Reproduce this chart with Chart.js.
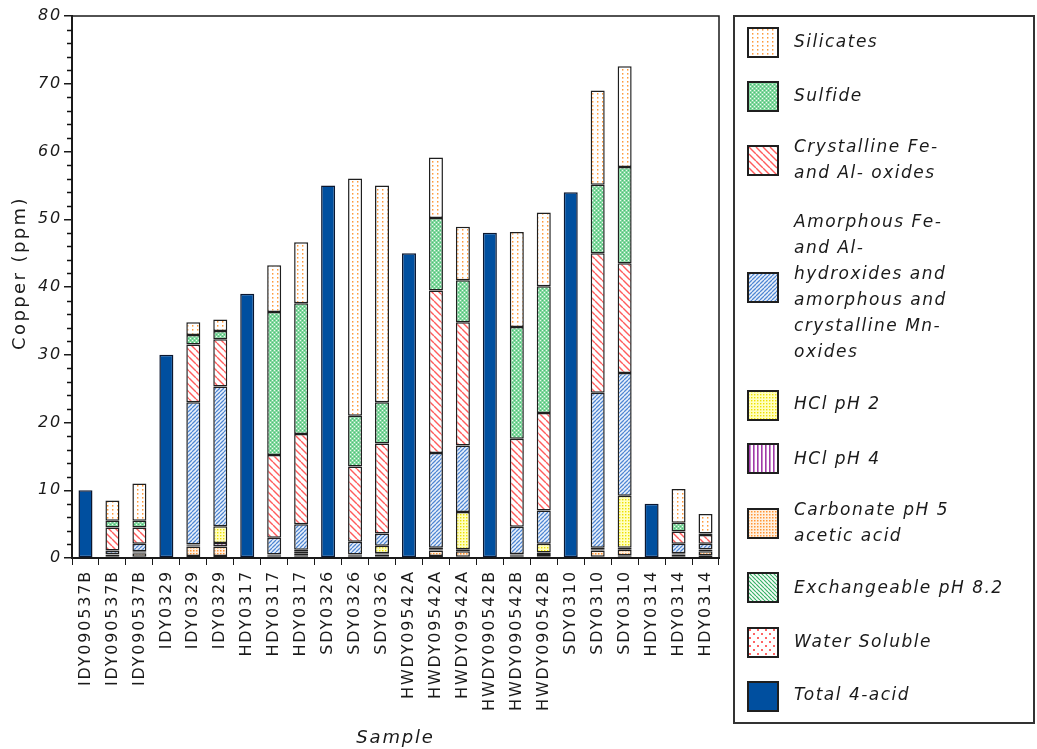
<!DOCTYPE html>
<html><head><meta charset="utf-8">
<script src="https://cdn.jsdelivr.net/npm/chart.js@4.4.1/dist/chart.umd.min.js"></script>
<style>html,body{margin:0;padding:0;background:#fff}#wrap{width:1037px;height:749px}</style>
</head><body><div id="wrap"><canvas id="c" width="1037" height="749"></canvas></div>
<script>
const categories = ['IDY090537B','IDY090537B','IDY090537B','IDY0329','IDY0329','IDY0329','HDY0317','HDY0317','HDY0317','SDY0326','SDY0326','SDY0326','HWDY09542A','HWDY09542A','HWDY09542A','HWDY090542B','HWDY090542B','HWDY090542B','SDY0310','SDY0310','SDY0310','HDY0314','HDY0314','HDY0314'];
const N = null;
const waterSoluble = [N,0.1,0.1, N,0.1,0.1, N,0.1,0.2, N,0.1,0.1, N,0.1,0.1, N,0.1,0.1, N,0.1,0.2, N,0.1,0.1];
const exchangeable = [N,0.1,0.1, N,0.2,0.2, N,0.1,0.2, N,0.1,0.1, N,0.2,0.1, N,0.1,0.1, N,0.1,0.2, N,0.1,0.3];
const carbonate    = [N,0.3,0.5, N,1.4,1.4, N,0.2,0.3, N,0.2,0.3, N,0.8,0.8, N,0.2,0.4, N,0.9,0.8, N,0.3,0.6];
const hclPH4       = [N,0.05,0.1, N,0.2,0.5, N,0.05,0.3, N,0.05,0.2, N,0.2,0.3, N,0.1,0.2, N,0.2,0.3, N,0.1,0.2];
const hclPH2       = [N,0.05,0.2, N,0.1,2.5, N,0.05,0.2, N,0.05,1.1, N,0.2,5.5, N,0.1,1.3, N,0.2,7.7, N,0.1,0.1];
const amorphous    = [N,0.5,1.1, N,21.0,20.6, N,2.5,3.8, N,1.9,1.8, N,14.0,9.8, N,4.0,4.9, N,22.9,18.1, N,1.4,0.8];
const crystalline  = [N,3.4,2.4, N,8.5,7.0, N,12.2,13.3, N,11.1,13.3, N,24.0,18.2, N,13.0,14.4, N,20.6,16.2, N,1.8,1.3];
const sulfide      = [N,1.0,1.0, N,1.4,1.2, N,21.1,19.3, N,7.5,6.1, N,10.7,6.2, N,16.5,18.7, N,10.1,14.2, N,1.3,0.2];
const silicates    = [N,3.0,5.5, N,1.9,1.7, N,6.9,9.0, N,35.0,32.0, N,8.9,7.9, N,14.0,10.9, N,13.9,14.9, N,5.0,2.9];
const total4acid   = [10,N,N, 30,N,N, 39,N,N, 55,N,N, 45,N,N, 48,N,N, 54,N,N, 8,N,N];
const yTickValues = [0,10,20,30,40,50,60,70,80];
const yMinorStep = 2;
const seriesNames = ['Water Soluble','Exchangeable pH 8.2','Carbonate pH 5 acetic acid','HCl pH 4','HCl pH 2','Amorphous Fe- and Al- hydroxides and amorphous and crystalline Mn- oxides','Crystalline Fe- and Al- oxides','Sulfide','Silicates','Total 4-acid'];

const mainCtx = document.getElementById('c').getContext('2d');
function pat(w,h,bg,draw){
  const c=document.createElement('canvas');c.width=w;c.height=h;
  const g=c.getContext('2d');
  if(bg){g.fillStyle=bg;g.fillRect(0,0,w,h);}
  draw(g);
  return mainCtx.createPattern(c,'repeat');
}
function diag(g,w,col,lw,dir){
  g.strokeStyle=col;g.lineWidth=lw;g.beginPath();
  for(let k=-1;k<=1;k++){
    if(dir==='\\'){g.moveTo(k*w,0);g.lineTo(k*w+w,w);}
    else{g.moveTo(k*w,w);g.lineTo(k*w+w,0);}
  }
  g.stroke();
}
const fills = {
  ws: pat(8,8,'#fff',g=>{g.fillStyle='#FF6464';g.fillRect(1,1,2,2);g.fillRect(5,5,2,2);}),
  ex: pat(4,4,'#f6fcf8',g=>diag(g,4,'#36B066',1.2,'\\')),
  ca: pat(3,3,'#FFF0E0',g=>{g.fillStyle='#FF9535';g.fillRect(1,1,1.5,1.5);}),
  h4: pat(4,4,'#fff',g=>{g.fillStyle='#A03AA8';g.fillRect(1,0,1.6,4);}),
  h2: pat(3,3,'#FFFFC0',g=>{g.fillStyle='#EDE000';g.fillRect(1,1,1.4,1.4);}),
  am: pat(4,4,'#eaf1fb',g=>diag(g,4,'#4F86D2',1.25,'/')),
  cr: pat(7,7,'#fff',g=>diag(g,7,'#FF5C5C',1.4,'\\')),
  su: pat(4,4,'#84D8A0',g=>{g.fillStyle='#F0FBF3';g.fillRect(0,0,1,1);g.fillRect(2,2,1,1);g.fillStyle='#4CBF77';g.fillRect(2,0,1,1);g.fillRect(0,2,1,1);}),
  si: pat(5,4,'#fff',g=>{g.fillStyle='#FF9A3A';g.fillRect(2,1,1.4,1.6);}),
  to: '#004F9F'
};
const seriesData = [waterSoluble,exchangeable,carbonate,hclPH4,hclPH2,amorphous,crystalline,sulfide,silicates,total4acid];
const keys = ['ws','ex','ca','h4','h2','am','cr','su','si','to'];
const datasets = seriesData.map((d,i)=>({
  label: seriesNames[i], data: d, backgroundColor: fills[keys[i]],
  borderColor: i===9?'#0b1730':'#1f1f1f', borderWidth: 1.5, borderSkipped:false,
  categoryPercentage:1, barPercentage:0.52
}));

const legendItems = [
  {k:8, sy:28, lines:['Silicates'], ty:[43]},
  {k:7, sy:82, lines:['Sulfide'], ty:[97]},
  {k:6, sy:146, lines:['Crystalline Fe-','and Al- oxides'], ty:[148,174]},
  {k:5, sy:273, lines:['Amorphous Fe-','and Al-','hydroxides and','amorphous and','crystalline Mn-','oxides'], ty:[223,249,275,301,327,353]},
  {k:4, sy:391, lines:['HCl pH 2'], ty:[405]},
  {k:3, sy:444, lines:['HCl pH 4'], ty:[460]},
  {k:2, sy:509, lines:['Carbonate pH 5','acetic acid'], ty:[511,537]},
  {k:1, sy:573, lines:['Exchangeable pH 8.2'], ty:[589]},
  {k:0, sy:628, lines:['Water Soluble'], ty:[643]},
  {k:9, sy:682, lines:['Total 4-acid'], ty:[696]}
];
const FONT='"DejaVu Sans", Verdana, sans-serif';
const extras = {
  id:'extras',
  beforeDraw(chart){ chart.ctx.letterSpacing='1.8px'; },
  afterDraw(chart){
    const ctx=chart.ctx, a=chart.chartArea, ys=chart.scales.y;
    ctx.save();
    ctx.strokeStyle='#1a1a1a';ctx.lineWidth=1.5;
    ctx.beginPath();ctx.moveTo(a.left,a.top);ctx.lineTo(a.right,a.top);ctx.lineTo(a.right,a.bottom);ctx.stroke();
    // minor y ticks
    ctx.strokeStyle='#111';ctx.lineWidth=1.3;ctx.beginPath();
    for(let v=ys.min;v<=ys.max;v+=yMinorStep){
      if(yTickValues.includes(v))continue;
      const py=Math.round(ys.getPixelForValue(v))+0.5;
      ctx.moveTo(a.left-5,py);ctx.lineTo(a.left,py);
    }
    ctx.stroke();
    // y axis title
    ctx.save();
    ctx.letterSpacing='2.4px';
    ctx.font='18px '+FONT;ctx.fillStyle='#1a1a1a';ctx.textAlign='center';ctx.textBaseline='middle';
    ctx.translate(20,273);ctx.rotate(-Math.PI/2);ctx.fillText('Copper (ppm)',0,0);
    ctx.restore();
    // legend box
    ctx.lineWidth=2;ctx.strokeStyle='#333';
    ctx.strokeRect(734,16,300,707);
    ctx.letterSpacing='1.5px';
    ctx.font='italic 17px '+FONT;ctx.textBaseline='middle';ctx.textAlign='left';
    legendItems.forEach(it=>{
      const ds=chart.data.datasets[it.k];
      ctx.fillStyle=ds.backgroundColor;ctx.fillRect(748,it.sy,30,29);
      ctx.strokeStyle='#1f1f1f';ctx.lineWidth=2;ctx.strokeRect(748,it.sy,30,29);
      ctx.fillStyle='#1a1a1a';
      it.lines.forEach((t,j)=>ctx.fillText(t,794,it.ty[j]));
    });
    ctx.restore();
    ctx.letterSpacing='0px';
  }
};
new Chart(document.getElementById('c'),{
  type:'bar',
  data:{labels:categories,datasets},
  options:{
    responsive:false,animation:false,devicePixelRatio:1,
    layout:{padding:{left:0,right:318,top:16,bottom:0}},
    plugins:{legend:{display:false},tooltip:{enabled:false}},
    scales:{
      x:{stacked:true,
        grid:{offset:true,drawOnChartArea:false,drawTicks:true,tickLength:7,color:'#1a1a1a',lineWidth:1},
        border:{display:true,color:'#1a1a1a',width:2},
        ticks:{autoSkip:false,maxRotation:90,minRotation:90,padding:5,color:'#1a1a1a',font:{family:FONT,size:16}},
        title:{display:true,text:'Sample',color:'#1a1a1a',font:{family:FONT,size:18,style:'italic'},padding:{top:0,bottom:0}},
        afterFit(s){s.height=191;}
      },
      y:{stacked:true,min:0,max:80,
        afterBuildTicks(s){s.ticks=yTickValues.map(v=>({value:v}));},
        ticks:{padding:2,color:'#1a1a1a',font:{family:FONT,size:16,style:'italic'}},
        grid:{drawOnChartArea:false,tickLength:8,color:'#1a1a1a',lineWidth:1.5},
        border:{display:true,color:'#1a1a1a',width:2},
        title:{display:false},
        afterFit(s){s.width=72;}
      }
    }
  },
  plugins:[extras]
});
</script></body></html>
